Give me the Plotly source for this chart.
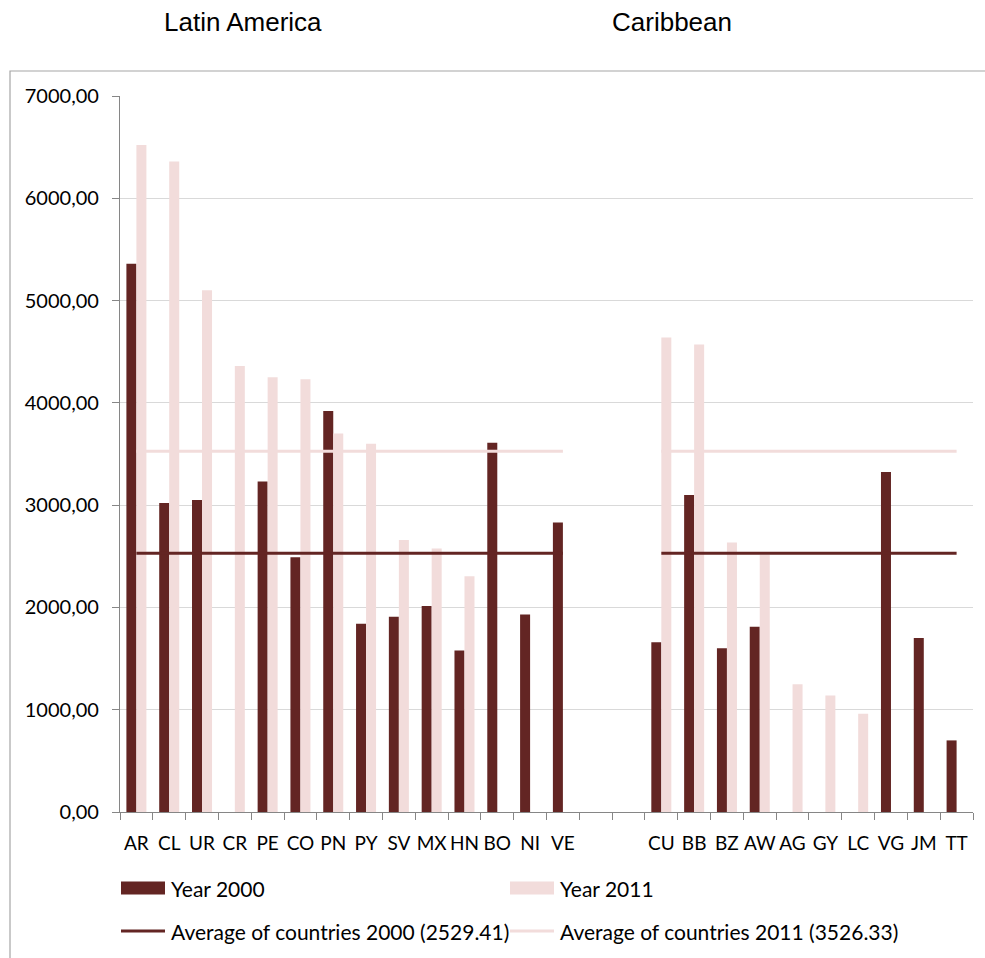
import plotly.graph_objects as go

# Country groups and their codes
latin_america = ["AR", "CL", "UR", "CR", "PE", "CO", "PN", "PY", "SV", "MX", "HN", "BO", "NI", "VE"]
caribbean = ["CU", "BB", "BZ", "AW", "AG", "GY", "LC", "VG", "JM", "TT"]
spacer = [" ", "  "]

# Values per country (None = no data)
la_2000 = [5360, 3020, 3050, None, 3230, 2490, 3920, 1840, 1910, 2015, 1580, 3610, 1930, 2830]
la_2011 = [6520, 6360, 5100, 4360, 4250, 4230, 3700, 3600, 2660, 2575, 2305, None, None, None]
car_2000 = [1660, 3100, 1600, 1810, None, None, None, 3325, 1700, 700]
car_2011 = [4640, 4570, 2635, 2515, 1250, 1140, 960, None, None, None]

avg_2000 = 2529.41
avg_2011 = 3526.33

y_ticks = [0, 1000, 2000, 3000, 4000, 5000, 6000, 7000]

categories = latin_america + spacer + caribbean
gap = [None] * len(spacer)
year_2000 = la_2000 + gap + car_2000
year_2011 = la_2011 + gap + car_2011
avg_line_2000 = [avg_2000] * len(latin_america) + gap + [avg_2000] * len(caribbean)
avg_line_2011 = [avg_2011] * len(latin_america) + gap + [avg_2011] * len(caribbean)

DARK = "#632523"
LIGHT = "#F2DCDB"
FONT = "Lato"

W, H = 985, 958
ML, MR, MT, MB = 120, 12, 96, 146
PW, PH = W - ML - MR, H - MT - MB


def px_x(px):
    return (px - ML) / PW


def px_y(py):
    return (H - MB - py) / PH


fig = go.Figure()
fig.add_trace(go.Bar(x=categories, y=year_2000, name="Year 2000",
                     marker=dict(color=DARK, line=dict(width=0)), showlegend=False))
fig.add_trace(go.Bar(x=categories, y=year_2011, name="Year 2011",
                     marker=dict(color=LIGHT, line=dict(width=0)), showlegend=False))
fig.add_trace(go.Scatter(x=categories, y=avg_line_2000, mode="lines",
                         name="Average of countries 2000 (2529.41)",
                         line=dict(color=DARK, width=3), connectgaps=False, showlegend=False))
fig.add_trace(go.Scatter(x=categories, y=avg_line_2011, mode="lines",
                         name="Average of countries 2011 (3526.33)",
                         line=dict(color=LIGHT, width=3), connectgaps=False, showlegend=False))

shapes = []
annotations = []

# Outer chart frame
shapes.append(dict(type="rect", xref="paper", yref="paper",
                   x0=px_x(10), x1=px_x(990), y0=px_y(965), y1=px_y(71),
                   line=dict(color="#A6A6A6", width=1.2), fillcolor="rgba(0,0,0,0)", layer="below"))

# Legend
legend_items = [
    ("rect", DARK, "Year 2000", 121, 888),
    ("rect", LIGHT, "Year 2011", 510, 888),
    ("line", DARK, "Average of countries 2000 (2529.41)", 121, 931),
    ("line", LIGHT, "Average of countries 2011 (3526.33)", 510, 931),
]
for kind, color, label, x0, yc in legend_items:
    if kind == "rect":
        shapes.append(dict(type="rect", xref="paper", yref="paper",
                           x0=px_x(x0), x1=px_x(x0 + 44), y0=px_y(yc + 6.5), y1=px_y(yc - 6.5),
                           fillcolor=color, line=dict(width=0)))
    else:
        shapes.append(dict(type="line", xref="paper", yref="paper",
                           x0=px_x(x0), x1=px_x(x0 + 44), y0=px_y(yc), y1=px_y(yc),
                           line=dict(color=color, width=3)))
    annotations.append(dict(text=label, xref="paper", yref="paper",
                            x=px_x(x0 + 48), y=px_y(yc), xanchor="left", yanchor="middle",
                            showarrow=False, font=dict(family=FONT, size=21, color="#000000")))

# Group headings
for label, xc in [("Latin America", 243), ("Caribbean", 672)]:
    annotations.append(dict(text=label, xref="paper", yref="paper",
                            x=px_x(xc), y=px_y(22), xanchor="center", yanchor="middle",
                            showarrow=False,
                            font=dict(family="Liberation Sans, Arial", size=26, color="#000000")))

fig.update_layout(
    width=W, height=H,
    margin=dict(l=ML, r=MR, t=MT, b=MB, pad=0, autoexpand=False),
    paper_bgcolor="white", plot_bgcolor="white",
    barmode="group", bargap=0.39, bargroupgap=0.0,
    separators=",.",
    shapes=shapes, annotations=annotations,
    showlegend=False,
)
fig.update_xaxes(
    type="category", categoryorder="array", categoryarray=categories,
    range=[-0.5, len(categories) - 0.5],
    showline=True, linecolor="#868686", linewidth=1.2,
    ticks="outside", tickson="boundaries", ticklen=7, tickcolor="#868686", tickwidth=1.2,
    showgrid=False, zeroline=False, tickangle=0, automargin=False,
    tickfont=dict(family=FONT, size=19, color="#000000"),
    ticklabelstandoff=14,
)
fig.update_yaxes(
    range=[0, 7000], tickvals=y_ticks, tickformat=".2f",
    showline=True, linecolor="#868686", linewidth=1.2,
    ticks="outside", ticklen=7, tickcolor="#868686", tickwidth=1.2,
    showgrid=True, gridcolor="#D9D9D9", gridwidth=1.2, zeroline=False, automargin=False,
    tickfont=dict(family=FONT, size=20, color="#000000"),
    ticklabelstandoff=9,
)

fig.write_html("out.html")
